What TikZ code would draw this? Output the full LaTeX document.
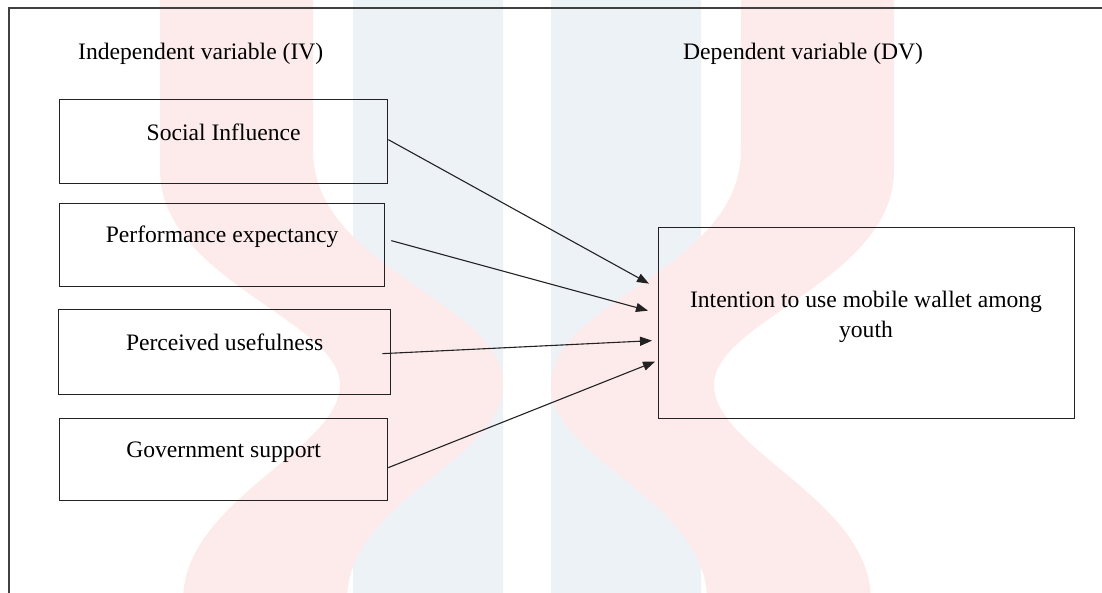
\documentclass[tikz,border=0pt]{standalone}
\usepackage{fontspec}
\setmainfont{Liberation Serif}
\usetikzlibrary{arrows.meta,calc}
\definecolor{wmred}{RGB}{253,235,235}
\definecolor{wmblue}{RGB}{237,242,247}
\definecolor{inkc}{RGB}{34,34,34}
\tikzset{
  varbox/.style={draw=inkc, line width=1.3pt, inner sep=0pt, anchor=north west,
    font=\fontsize{23.6}{28}\selectfont},
  headtxt/.style={anchor=base west, inner sep=0pt, font=\fontsize{23.6}{28}\selectfont},
  arr/.style={draw=inkc, line width=1.1pt, -{Triangle[length=12pt,width=9pt]}},
  frameline/.style={draw=black!75, line width=2pt},
  ribbon/.style={fill=wmred, rounded corners=18pt}
}
\begin{document}
\begin{tikzpicture}[x=1pt,y=-1pt]
\useasboundingbox (0,0) rectangle (1102,593);
% watermark
\begin{scope}
\clip (0,0) rectangle (1102,593);
\fill[wmblue, rounded corners=20pt] (353,-30) rectangle (503,623);
\fill[wmblue, rounded corners=20pt] (551,-30) rectangle (701,623);
\fill[wmred] (160,-5) -- (313,-5) -- (313,150)
  .. controls (313,270) and (503,300) .. (503,385)
  .. controls (503,460) and (347,500) .. (347,600) -- (183,600)
  .. controls (183,500) and (340,450) .. (340,385)
  .. controls (340,320) and (160,280) .. (160,170) -- cycle;
\fill[wmred] (894,-5) -- (741,-5) -- (741,150)
  .. controls (741,270) and (551,300) .. (551,385)
  .. controls (551,460) and (707,500) .. (707,600) -- (871,600)
  .. controls (871,500) and (714,450) .. (714,385)
  .. controls (714,320) and (894,280) .. (894,170) -- cycle;
\end{scope}
% frame
\draw[frameline] (1102,8) -- (9,8) -- (9,593);
% headers
\node[headtxt] (hiv) at (78,60) {Independent variable (IV)};
\node[headtxt] (hdv) at (683,60) {Dependent variable (DV)};
% boxes
\node[varbox, minimum width=328pt, text height=41pt, text depth=43pt] (b1) at (59,99) {Social Influence};
\node[varbox, minimum width=325pt, text height=39pt, text depth=44pt] (b2) at (59,203) {Performance expectancy};
\node[varbox, minimum width=332pt, text height=41pt, text depth=44pt] (b3) at (58,309) {Perceived usefulness};
\node[varbox, minimum width=328pt, text height=39pt, text depth=43pt] (b4) at (59,418) {Government support};
\node[varbox, minimum width=416pt, minimum height=191pt] (dv) at (658,227) {};
\node[font=\fontsize{23.6}{30}\selectfont, align=center, inner sep=0pt] (dvt) at (866,316.4) {Intention to use mobile wallet among\\youth};
% arrows
\draw[arr] ([yshift=2pt]b1.east) -- ([xshift=-9pt,yshift=39.5pt]dv.west);
\draw[arr] ([xshift=6pt,yshift=4.5pt]b2.east) -- ([xshift=-10pt,yshift=12.5pt]dv.west);
\draw[arr] ([xshift=-9pt,yshift=-1.5pt]b3.east) -- ([xshift=-6pt,yshift=-17.5pt]dv.west);
\draw[arr] ([yshift=-8pt]b4.east) -- ([xshift=-3pt,yshift=-38.5pt]dv.west);
\end{tikzpicture}
\end{document}
